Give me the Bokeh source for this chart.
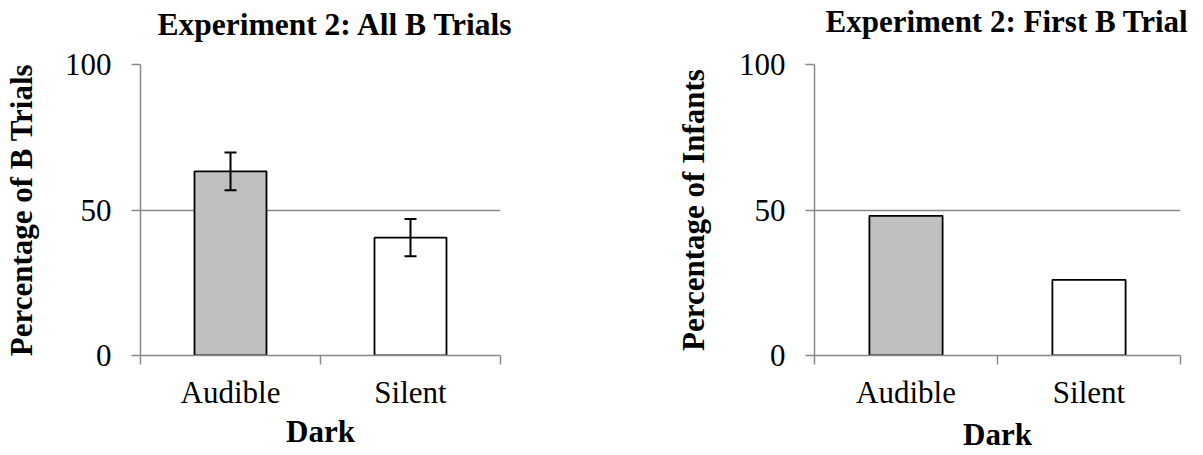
from bokeh.plotting import figure
from bokeh.layouts import row
from bokeh.models import Range1d, FixedTicker, ColumnDataSource, Whisker, TeeHead, Title
from bokeh.embed import file_html
from bokeh.resources import INLINE

# ---- data ----
categories = ["Audible", "Silent"]
all_b_values = [63.3, 40.5]
all_b_errors = [6.5, 6.4]
first_b_values = [48.0, 26.0]
bar_fills = ["#C0C0C0", "#FFFFFF"]
y_ticks = [0, 50, 100]

titles = ["Experiment 2: All B Trials", "Experiment 2: First B Trial"]
y_labels = ["Percentage of B Trials", "Percentage of Infants"]
x_label = "Dark"

FONT = "Liberation Serif"
GRID = "#898989"
H = 455


def make_panel(title, ylabel, values, errors, width, borders, title_offset, title_size,
               title_standoff, spacer_standoff, ylab_standoff, xlab_standoff):
    left, right, top, bottom = borders
    n = len(categories)
    pos = [i + 0.5 for i in range(n)]
    p = figure(width=width, height=H, output_backend="svg", toolbar_location=None,
               x_range=Range1d(0, n), y_range=Range1d(0, 100),
               min_border_left=left, min_border_right=right,
               min_border_top=top, min_border_bottom=bottom)
    p.outline_line_color = None
    p.background_fill_color = "white"
    p.border_fill_color = "white"

    src = ColumnDataSource(dict(x=pos, top=values, fill=bar_fills[:n], cat=categories))
    p.vbar(x="x", top="top", bottom=0, width=0.4, source=src, fill_color="fill",
           line_color="black", line_width=1.8)

    if errors is not None:
        esrc = ColumnDataSource(dict(x=pos,
                                     lo=[v - e for v, e in zip(values, errors)],
                                     hi=[v + e for v, e in zip(values, errors)]))
        w = Whisker(base="x", lower="lo", upper="hi", source=esrc,
                    line_color="black", line_width=2, level="overlay",
                    upper_head=TeeHead(size=12, line_color="black", line_width=2),
                    lower_head=TeeHead(size=12, line_color="black", line_width=2))
        p.add_layout(w)

    # spacer between frame and title (closest to the frame), then the title
    p.add_layout(Title(text=" ", text_font_size="1px", standoff=spacer_standoff), "above")
    p.add_layout(Title(text=title, align="left", offset=title_offset,
                       text_font=FONT, text_font_size=title_size, text_font_style="bold",
                       text_color="black", standoff=title_standoff), "above")

    # y axis
    ya = p.yaxis[0]
    ya.ticker = FixedTicker(ticks=y_ticks, minor_ticks=[])
    ya.axis_line_color = GRID
    ya.axis_line_width = 1.5
    ya.major_tick_line_color = GRID
    ya.major_tick_line_width = 1.5
    ya.major_tick_out = 9
    ya.major_tick_in = 0
    ya.minor_tick_line_color = None
    ya.major_label_text_font = FONT
    ya.major_label_text_font_size = "31px"
    ya.major_label_text_color = "black"
    ya.major_label_standoff = 20
    ya.axis_label = ylabel
    ya.axis_label_text_font = FONT
    ya.axis_label_text_font_size = "31px"
    ya.axis_label_text_font_style = "bold"
    ya.axis_label_text_color = "black"
    ya.axis_label_standoff = ylab_standoff

    # x axis (category separators as minor ticks)
    xa = p.xaxis[0]
    xa.ticker = FixedTicker(ticks=pos, minor_ticks=list(range(n + 1)))
    xa.major_label_overrides = {pv: c for pv, c in zip(pos, categories)}
    xa.axis_line_color = GRID
    xa.axis_line_width = 1.5
    xa.major_tick_line_color = None
    xa.major_tick_out = 0
    xa.major_tick_in = 0
    xa.minor_tick_line_color = GRID
    xa.minor_tick_line_width = 1.5
    xa.minor_tick_out = 9
    xa.minor_tick_in = 0
    xa.major_label_text_font = FONT
    xa.major_label_text_font_size = "31px"
    xa.major_label_text_color = "black"
    xa.major_label_standoff = 10
    xa.axis_label = x_label
    xa.axis_label_text_font = FONT
    xa.axis_label_text_font_size = "31px"
    xa.axis_label_text_font_style = "bold"
    xa.axis_label_text_color = "black"
    xa.axis_label_standoff = xlab_standoff

    p.xgrid.grid_line_color = None
    p.ygrid.ticker = FixedTicker(ticks=y_ticks)
    p.ygrid.grid_line_color = GRID
    p.ygrid.grid_line_width = 1.5
    return p


p1 = make_panel(titles[0], y_labels[0], all_b_values, all_b_errors,
                600, (140, 100, 64, 100), title_offset=17, title_size="31.5px",
                title_standoff=-8, spacer_standoff=24, ylab_standoff=23, xlab_standoff=1)
p2 = make_panel(titles[1], y_labels[1], first_b_values, None,
                603, (214, 23, 64, 100), title_offset=11, title_size="31px",
                title_standoff=-14, spacer_standoff=30, ylab_standoff=25, xlab_standoff=4)

layout = row(p1, p2)
open("out.html", "w").write(file_html(layout, INLINE))
